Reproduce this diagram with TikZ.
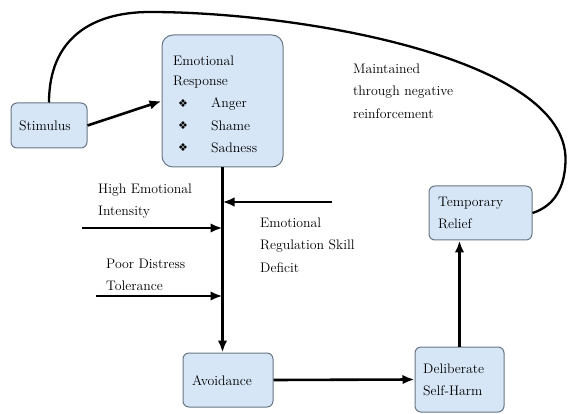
\documentclass[tikz,border=0pt]{standalone}
\usepackage{fontspec}
\newfontfamily\dingfont{DejaVu Sans}
\usetikzlibrary{arrows.meta}
\definecolor{boxfill}{RGB}{214,230,246}
\definecolor{boxline}{RGB}{105,118,132}
\tikzset{
  box/.style={draw=boxline, line width=1pt, fill=boxfill, rounded corners=6pt, inner sep=0pt},
  lbl/.style={font=\rmfamily\fontsize{13.8}{22.5}\selectfont, align=left, inner sep=0pt, anchor=west, text=black},
  conn/.style={line width=2.6pt, -{Latex[length=12pt,width=9.5pt]}},
  plain/.style={line width=2.3pt}
}
\begin{document}
\begin{tikzpicture}[x=1pt,y=-1pt]
\useasboundingbox (0,0) rectangle (568,414);
% boxes
\node[box, minimum width=76pt, minimum height=45pt] (stim) at (49,125.5) {};
\node[box, rounded corners=11pt, minimum width=121pt, minimum height=132pt] (er) at (222.5,101) {};
\node[box, minimum width=90pt, minimum height=54pt] (avoid) at (228,380) {};
\node[box, minimum width=89pt, minimum height=65pt] (dsh) at (459.5,379.5) {};
\node[box, minimum width=103pt, minimum height=54pt] (tr) at (480.5,213) {};
% box texts
\node[lbl] (tstim) at (19,126) {Stimulus};
\node[lbl] (ter1) at (173,61) {Emotional};
\node[lbl] (ter2) at (173,82) {Response};
\node[lbl] (b1) at (178,104) {\dingfont\fontsize{11}{11}\selectfont ❖};
\node[lbl] (b2) at (178,126) {\dingfont\fontsize{11}{11}\selectfont ❖};
\node[lbl] (b3) at (178,148) {\dingfont\fontsize{11}{11}\selectfont ❖};
\node[lbl] (t1) at (211,104) {Anger};
\node[lbl] (t2) at (211,126) {Shame};
\node[lbl] (t3) at (211,148) {Sadness};
\node[lbl] (tavoid) at (192,381) {Avoidance};
\node[lbl] (tdsh) at (423,380) {Deliberate\\Self-Harm};
\node[lbl] (ttr) at (438,213) {Temporary\\Relief};
% free labels
\node[lbl] (lhei) at (98,201) {High Emotional\\Intensity};
\node[lbl] (lpdt) at (106,275) {Poor Distress\\Tolerance};
\node[lbl] (lers) at (260,245) {Emotional\\Regulation Skill\\Deficit};
\node[lbl] (lmnr) at (353,91) {Maintained\\through negative\\reinforcement};
% coordinates for incoming arrows
\coordinate (a) at (332,202);
\coordinate (b) at (82,228);
\coordinate (c) at (96,296);
\coordinate (vtop) at (er.south);
% connectors
\draw[conn] (stim.east) -- (er.west);
\draw[conn] (vtop) -- (vtop |- avoid.north);
\draw[conn] (a) -- (vtop |- a);
\draw[conn] (b) -- (vtop |- b);
\draw[conn] (c) -- (vtop |- c);
\draw[conn] (avoid.east) -- (dsh.west);
\draw[conn] (dsh.north) -- (dsh.north |- tr.south);
\draw[plain] (stim.north) .. controls (49,40) and (90,12) .. (150,12)
  .. controls (300,12) and (567,58) .. (565.5,160)
  .. controls (565,195) and (548,208) .. (tr.east);
\end{tikzpicture}
\end{document}
